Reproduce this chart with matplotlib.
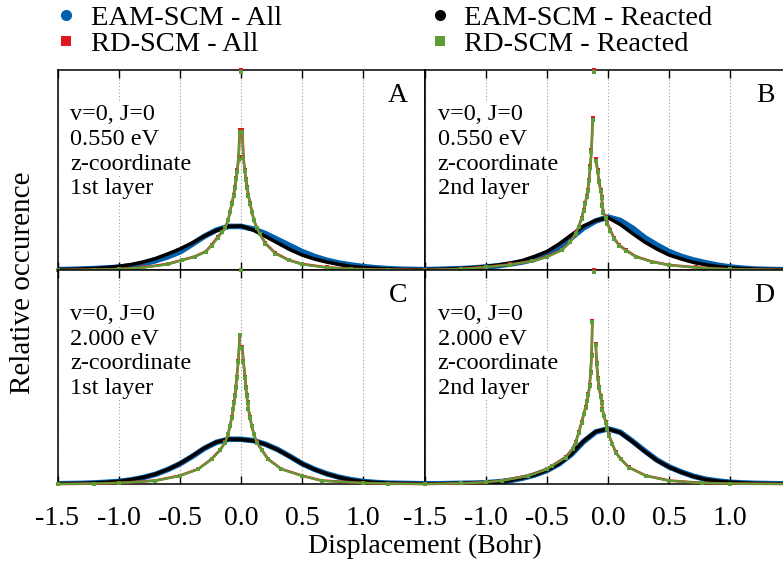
import matplotlib
matplotlib.use('Agg')
import matplotlib.pyplot as plt
from matplotlib.lines import Line2D

plt.rcParams['font.family'] = ['Liberation Serif', 'DejaVu Serif']

# x grid of the EAM-SCM histograms (Bohr)
x_eam = [-1.5, -1.4, -1.3, -1.2, -1.1, -1.0, -0.9, -0.8, -0.7, -0.6, -0.5,
         -0.4, -0.3, -0.2, -0.1, 0.0, 0.1, 0.2, 0.3, 0.4, 0.5,
         0.6, 0.7, 0.8, 0.9, 1.0, 1.1, 1.2, 1.3, 1.4, 1.5]

# panel A: 0.550 eV, 1st layer
blue_a = [0.002, 0.003, 0.005, 0.007, 0.010, 0.014, 0.021, 0.031, 0.046, 0.066, 0.090,
          0.128, 0.168, 0.200, 0.218, 0.218, 0.205, 0.182, 0.152, 0.122, 0.092,
          0.068, 0.049, 0.035, 0.025, 0.017, 0.011, 0.007, 0.004, 0.003, 0.002]
black_a = [0.002, 0.003, 0.005, 0.008, 0.012, 0.018, 0.027, 0.040, 0.057, 0.080, 0.105,
           0.135, 0.170, 0.198, 0.218, 0.220, 0.200, 0.168, 0.135, 0.102, 0.075,
           0.055, 0.040, 0.028, 0.018, 0.012, 0.008, 0.005, 0.003, 0.002, 0.001]
x_rd_a = [-1.5, -1.2, -1.0, -0.8, -0.6, -0.48, -0.38, -0.29, -0.24, -0.19, -0.155,
          -0.13, -0.105, -0.09, -0.075, -0.06, -0.05, -0.04, -0.03, -0.02, -0.01,
          0.0, 0.01, 0.02, 0.03, 0.04, 0.05, 0.06, 0.075, 0.09, 0.105,
          0.13, 0.155, 0.2, 0.28, 0.39, 0.5, 0.7, 0.9, 1.2, 1.5]
red_a = [0.0, 0.002, 0.005, 0.013, 0.030, 0.050, 0.067, 0.092, 0.125, 0.165, 0.19,
         0.21, 0.25, 0.29, 0.333, 0.375, 0.415, 0.458, 0.50, 0.565, 0.70,
         1.0, 0.70, 0.565, 0.50, 0.455, 0.415, 0.375, 0.333, 0.29, 0.25,
         0.21, 0.18, 0.133, 0.085, 0.05, 0.03, 0.013, 0.006, 0.002, 0.0]
green_a = [0.0, 0.002, 0.005, 0.012, 0.028, 0.048, 0.066, 0.090, 0.122, 0.160, 0.188,
           0.21, 0.248, 0.288, 0.33, 0.37, 0.41, 0.455, 0.49, 0.55, 0.69,
           0.99, 0.69, 0.56, 0.495, 0.45, 0.41, 0.37, 0.33, 0.288, 0.248,
           0.208, 0.178, 0.13, 0.082, 0.048, 0.028, 0.012, 0.005, 0.002, 0.0]

# panel B: 0.550 eV, 2nd layer
blue_b = [0.002, 0.003, 0.005, 0.007, 0.010, 0.015, 0.021, 0.030, 0.040, 0.054, 0.075,
          0.108, 0.160, 0.210, 0.245, 0.265, 0.248, 0.210, 0.162, 0.125, 0.092,
          0.068, 0.050, 0.036, 0.024, 0.015, 0.009, 0.005, 0.003, 0.002, 0.001]
black_b = [0.002, 0.003, 0.005, 0.008, 0.012, 0.017, 0.024, 0.034, 0.047, 0.068, 0.092,
           0.130, 0.175, 0.220, 0.248, 0.262, 0.228, 0.183, 0.140, 0.105, 0.075,
           0.055, 0.038, 0.026, 0.017, 0.011, 0.007, 0.004, 0.003, 0.002, 0.001]
x_rd_b = [-1.5, -1.2, -1.0, -0.8, -0.62, -0.5, -0.38, -0.31, -0.265, -0.24,
          -0.215, -0.2, -0.185, -0.175, -0.165, -0.155, -0.145, -0.135, -0.125, -0.115,
          -0.10, -0.085, -0.075, -0.06, -0.052, -0.046, -0.038, -0.02, -0.005,
          0.02, 0.05, 0.09, 0.145, 0.23, 0.36, 0.5, 0.72, 1.0, 1.5]
red_b = [0.0, 0.006, 0.015, 0.028, 0.045, 0.067, 0.10, 0.14, 0.183, 0.217,
         0.26, 0.30, 0.333, 0.37, 0.40, 0.45, 0.52, 0.60, 0.76, 1.0,
         0.553, 0.50, 0.447, 0.40, 0.367, 0.325, 0.29, 0.267, 0.233,
         0.20, 0.158, 0.125, 0.10, 0.067, 0.042, 0.025, 0.013, 0.004, 0.0]
green_b = [0.0, 0.005, 0.014, 0.027, 0.044, 0.065, 0.098, 0.138, 0.18, 0.215,
           0.255, 0.295, 0.33, 0.365, 0.395, 0.445, 0.51, 0.59, 0.75, 0.99,
           0.545, 0.49, 0.44, 0.395, 0.36, 0.32, 0.285, 0.262, 0.228,
           0.195, 0.155, 0.122, 0.097, 0.065, 0.04, 0.024, 0.012, 0.004, 0.0]

# panel C: 2.000 eV, 1st layer
blue_c = [0.001, 0.002, 0.003, 0.005, 0.008, 0.012, 0.019, 0.030, 0.045, 0.067, 0.094,
          0.128, 0.166, 0.195, 0.209, 0.209, 0.203, 0.186, 0.161, 0.129, 0.095,
          0.069, 0.048, 0.032, 0.020, 0.012, 0.007, 0.004, 0.003, 0.002, 0.001]
black_c = [0.001, 0.002, 0.003, 0.005, 0.008, 0.012, 0.020, 0.031, 0.046, 0.068, 0.095,
           0.130, 0.168, 0.196, 0.210, 0.208, 0.202, 0.185, 0.160, 0.128, 0.094,
           0.068, 0.047, 0.031, 0.019, 0.011, 0.007, 0.004, 0.003, 0.002, 0.001]
x_rd_c = [-1.5, -1.2, -1.0, -0.7, -0.5, -0.35, -0.24, -0.17, -0.13, -0.105,
          -0.09, -0.075, -0.063, -0.056, -0.049, -0.042, -0.035, -0.022, -0.01,
          0.0, 0.01, 0.02, 0.033, 0.04, 0.046, 0.054, 0.06, 0.074, 0.087,
          0.105, 0.128, 0.17, 0.22, 0.33, 0.5, 0.66, 1.0, 1.2, 1.5]
red_c = [0.0, 0.002, 0.005, 0.016, 0.039, 0.07, 0.117, 0.16, 0.195, 0.234,
         0.273, 0.3125, 0.352, 0.383, 0.414, 0.453, 0.50, 0.573, 0.698,
         1.0, 0.64, 0.573, 0.50, 0.453, 0.414, 0.383, 0.352, 0.3125, 0.273,
         0.234, 0.195, 0.16, 0.117, 0.07, 0.039, 0.016, 0.005, 0.002, 0.0]
green_c = [0.0, 0.002, 0.005, 0.015, 0.038, 0.069, 0.115, 0.158, 0.193, 0.232,
           0.27, 0.31, 0.35, 0.38, 0.41, 0.45, 0.497, 0.57, 0.695,
           1.0, 0.635, 0.57, 0.497, 0.45, 0.41, 0.38, 0.35, 0.31, 0.27,
           0.232, 0.193, 0.158, 0.115, 0.069, 0.038, 0.015, 0.005, 0.002, 0.0]

# panel D: 2.000 eV, 2nd layer
blue_d = [0.001, 0.001, 0.002, 0.003, 0.004, 0.006, 0.010, 0.016, 0.027, 0.042, 0.063,
          0.094, 0.138, 0.198, 0.243, 0.258, 0.242, 0.200, 0.155, 0.112, 0.080,
          0.056, 0.036, 0.022, 0.014, 0.008, 0.005, 0.003, 0.002, 0.001, 0.001]
black_d = [0.001, 0.001, 0.002, 0.003, 0.004, 0.006, 0.010, 0.017, 0.028, 0.043, 0.064,
           0.095, 0.140, 0.200, 0.245, 0.258, 0.240, 0.198, 0.152, 0.110, 0.078,
           0.055, 0.035, 0.021, 0.013, 0.008, 0.005, 0.003, 0.002, 0.001, 0.001]
x_rd_d = [-1.5, -1.2, -1.0, -0.87, -0.65, -0.5, -0.456, -0.347, -0.29, -0.265,
          -0.238, -0.216, -0.197, -0.183, -0.17, -0.16, -0.15, -0.142, -0.134, -0.128,
          -0.115, -0.10, -0.093, -0.082, -0.074, -0.06, -0.052, -0.046, -0.033, -0.019,
          -0.005, 0.008, 0.036, 0.063, 0.104, 0.17, 0.31, 0.5, 0.77, 1.0, 1.5]
red_d = [0.0, 0.003, 0.008, 0.016, 0.039, 0.07, 0.086, 0.125, 0.164, 0.195,
         0.242, 0.289, 0.328, 0.36, 0.39, 0.42, 0.464, 0.523, 0.605, 0.761,
         1.0, 0.656, 0.567, 0.495, 0.453, 0.41, 0.383, 0.35, 0.32, 0.289,
         0.258, 0.227, 0.1875, 0.148, 0.117, 0.078, 0.039, 0.016, 0.005, 0.002, 0.0]
green_d = [0.0, 0.003, 0.008, 0.015, 0.038, 0.069, 0.085, 0.123, 0.162, 0.193,
           0.24, 0.286, 0.325, 0.357, 0.386, 0.416, 0.46, 0.518, 0.6, 0.755,
           0.99, 0.65, 0.562, 0.49, 0.448, 0.406, 0.38, 0.347, 0.317, 0.286,
           0.255, 0.224, 0.185, 0.146, 0.115, 0.077, 0.038, 0.015, 0.005, 0.002, 0.0]

panel_letters = ['A', 'B', 'C', 'D']
energies = ['0.550 eV', '0.550 eV', '2.000 eV', '2.000 eV']
layers = ['1st layer', '2nd layer', '1st layer', '2nd layer']
series_labels = ['EAM-SCM - All', 'EAM-SCM - Reacted', 'RD-SCM - All', 'RD-SCM - Reacted']
x_ticks = [-1.5, -1.0, -0.5, 0.0, 0.5, 1.0]

c_blue = '#0060ad'
c_black = '#000000'
c_red = '#dd181f'
c_green = '#5e9c36'

panels = [
    (blue_a, black_a, x_rd_a, red_a, green_a),
    (blue_b, black_b, x_rd_b, red_b, green_b),
    (blue_c, black_c, x_rd_c, red_c, green_c),
    (blue_d, black_d, x_rd_d, red_d, green_d),
]

W, H = 783.0, 566.0
# pixel boxes (left, top, right, bottom); right column runs past the image edge
boxes = [(57.5, 70, 424.5, 270), (424.5, 70, 791.5, 270),
         (57.5, 270, 424.5, 484), (424.5, 270, 791.5, 484)]


def plot_cusp(ax, x, y, color, lw, ms, z):
    # markers for every bin, connecting line broken at the clipped central bin
    k = y.index(max(y))
    ax.plot(x[:k], y[:k], color=color, lw=lw, zorder=z, clip_on=False)
    ax.plot(x[k + 1:], y[k + 1:], color=color, lw=lw, zorder=z, clip_on=False)
    ax.plot(x, y, ls='none', marker='s', ms=ms, mew=0, color=color,
            zorder=z, clip_on=False)


fig = plt.figure(figsize=(W / 100, H / 100), dpi=100)

for i, (blue, black, x_rd, red, green) in enumerate(panels):
    x0, y0, x1, y1 = boxes[i]
    ax = fig.add_axes([x0 / W, 1 - y1 / H, (x1 - x0) / W, (y1 - y0) / H])

    ax.plot(x_eam, blue, color=c_blue, lw=4, solid_capstyle='butt', zorder=2)
    ax.plot(x_eam, black, color=c_black, lw=2.6, zorder=3)
    plot_cusp(ax, x_rd, red, c_red, 1.9, 3.4, 4)
    plot_cusp(ax, x_rd, green, c_green, 1.6, 2.9, 5)

    ax.set_xlim(-1.5, 1.5)
    ax.set_ylim(0, 1)
    ax.set_yticks([])
    ax.set_xticks(x_ticks)
    ax.tick_params(axis='x', direction='in', top=True, bottom=True, length=6,
                   width=1.0, labelsize=20, pad=16)
    if i < 2:
        ax.tick_params(axis='x', labelbottom=False)
    else:
        ax.set_xticklabels(['%.1f' % t for t in x_ticks])
    for sp in ax.spines.values():
        sp.set_linewidth(1.1)
    ax.grid(axis='x', color='#9a9a9a', linestyle=(0, (1, 2)), linewidth=0.8)
    ax.set_axisbelow(True)

    lines = ['v=0, J=0', energies[i], 'z-coordinate', layers[i]]
    for k, txt in enumerate(lines):
        ax.annotate(txt, xy=(0, 1), xycoords='axes fraction',
                    xytext=(13 * 0.72, -(45 + 24.5 * k) * 0.72),
                    textcoords='offset points', ha='left', va='center',
                    fontsize=17.5, zorder=6,
                    bbox=dict(facecolor='white', edgecolor='none', pad=1))
    ax.annotate(panel_letters[i], xy=(1, 1), xycoords='axes fraction',
                xytext=(-17 * 0.72, -26 * 0.72), textcoords='offset points',
                ha='right', va='center', fontsize=20)

fig.text(23 / W, 1 - 283 / H, 'Relative occurence', rotation=90,
         ha='center', va='center', fontsize=21)
fig.text(425 / W, 1 - 546 / H, 'Displacement (Bohr)', ha='center',
         va='center', fontsize=20)

handles = [
    Line2D([], [], ls='none', marker='o', ms=8, mew=0, color=c_blue),
    Line2D([], [], ls='none', marker='s', ms=7.5, mew=0, color=c_red),
    Line2D([], [], ls='none', marker='o', ms=8, mew=0, color=c_black),
    Line2D([], [], ls='none', marker='s', ms=7.5, mew=0, color=c_green),
]
labels = [series_labels[0], series_labels[2], series_labels[1], series_labels[3]]
fig.legend(handles, labels, ncol=2, loc='upper left',
           bbox_to_anchor=(55 / W, 1 - 5 / H), frameon=False, fontsize=20.5,
           borderpad=0, borderaxespad=0, handlelength=0.8, handletextpad=0.45,
           columnspacing=5.15, labelspacing=0.0)

fig.savefig('out.png', dpi=100)
